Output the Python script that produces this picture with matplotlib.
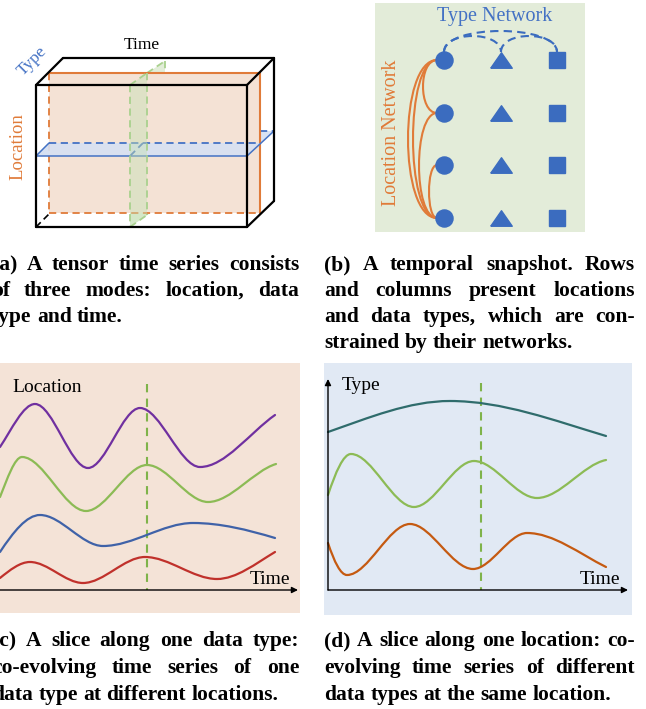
import matplotlib
matplotlib.use('Agg')
import matplotlib.pyplot as plt
from matplotlib.path import Path
from matplotlib.patches import PathPatch, Polygon, Rectangle

plt.rcParams['font.family'] = ['Liberation Serif', 'DejaVu Serif']

# --- panel (c): series at different locations, anchors (x, y, slope) in pixels
c_purple = [(0, 447, -1.5), (35, 404, 0), (88, 468, 0), (140, 408, 0), (200, 467, 0), (275, 415, -0.7)]
c_green = [(0, 497, -2.5), (22, 457, 0), (86, 511, 0), (147, 465, 0), (208, 502, 0), (276, 464, -0.3)]
c_blue = [(0, 552, -1.5), (40, 515, 0), (103, 546, 0), (193, 523, 0), (275, 538, 0.3)]
c_red = [(0, 578, -0.8), (30, 562, 0), (83, 583, 0), (145, 557, 0), (217, 579, 0), (275, 552, -0.6)]

# --- panel (d): series of different types at one location
d_teal = [(328, 432, -0.35), (450, 401, 0), (606, 436, 0.3)]
d_green = [(328, 495, -3), (351, 454, 0), (414, 507, 0), (474, 461, 0), (537, 498, 0), (606, 460, -0.2)]
d_orange = [(328, 543, 3), (347, 575, 0), (410, 524, 0), (473, 569, 0), (527, 533, 0), (606, 567, 0.5)]

# --- panel (b): snapshot grid
node_cols = [444, 501, 557]
node_rows = [60, 113, 165, 218]
# location network edges (row i, row j, leftmost x of the arc)
loc_edges = [(0, 1, 423), (0, 3, 408), (0, 3, 413), (1, 3, 419), (2, 3, 429)]
# type network edges (col i, col j, top y of the arc)
type_edges = [(0, 2, 31), (0, 1, 36), (1, 2, 36)]

captions = {
    'a': ["(a) A tensor time series consists", "of three modes: location, data", "type and time."],
    'b': ["(b) A temporal snapshot. Rows", "and columns present locations",
          "and data types, which are con-", "strained by their networks."],
    'c': ["(c) A slice along one data type:", "co-evolving time series of one",
          "data type at different locations."],
    'd': ["(d) A slice along one location: co-", "evolving time series of different",
          "data types at the same location."],
}

ORANGE = '#e07b39'
BLUE = '#4472c4'
NODE = '#3b6cbf'
GREEN_DASH = '#a9d18e'

fig = plt.figure(figsize=(6.46, 7.09), dpi=100)
ax = fig.add_axes([0, 0, 1, 1])
ax.set_xlim(0, 646)
ax.set_ylim(709, 0)
ax.axis('off')


def smooth(pts, color, lw=1.6):
    verts = [(pts[0][0], pts[0][1])]
    codes = [Path.MOVETO]
    for (x0, y0, s0), (x1, y1, s1) in zip(pts[:-1], pts[1:]):
        h = (x1 - x0) / 3
        verts += [(x0 + h, y0 + s0 * h), (x1 - h, y1 - s1 * h), (x1, y1)]
        codes += [Path.CURVE4] * 3
    ax.add_patch(PathPatch(Path(verts, codes), fill=False, edgecolor=color, lw=lw, zorder=4,
                           capstyle='round'))


def seg(p, q, color, lw=1.3, ls='-', z=5):
    ax.plot([p[0], q[0]], [p[1], q[1]], color=color, lw=lw, ls=ls, zorder=z,
            dashes=(4, 2.5) if ls == '--' else (None, None), solid_capstyle='round')


# ---------------- (a) cube ----------------
ax.add_patch(Polygon([(130, 227), (130, 85), (165, 61), (165, 203)], closed=True,
                     facecolor='#e2edd8', edgecolor='none', zorder=1))
seg((147, 73), (165, 61), GREEN_DASH, ls='--', z=1)
seg((165, 61), (165, 73), GREEN_DASH, ls='--', z=1)
ax.add_patch(Polygon([(36, 156), (247, 156), (274, 131), (63, 131)], closed=True,
                     facecolor='#d9e2f3', edgecolor='none', zorder=1))
seg((260, 131), (274, 131), BLUE, ls='--', z=1)

ax.add_patch(Rectangle((49, 73), 211, 140, facecolor='#f4e2d5', edgecolor='none', zorder=2))
seg((49, 73), (260, 73), ORANGE, lw=1.5, z=2)
seg((260, 73), (260, 213), ORANGE, lw=1.5, z=2)
seg((49, 73), (49, 213), ORANGE, ls='--', z=2)
seg((49, 213), (260, 213), ORANGE, ls='--', z=2)

# blue horizontal slice
ax.add_patch(Polygon([(36, 156), (247, 156), (260, 143), (49, 143)], closed=True,
                     facecolor='#d6e0f2', alpha=0.9, edgecolor='none', zorder=3))
seg((49, 143), (260, 143), BLUE, ls='--', z=3)
seg((36, 156), (247, 156), BLUE, lw=1.1, z=3)
seg((36, 156), (49, 143), BLUE, lw=1.1, z=3)
seg((130, 156), (143, 143), BLUE, ls='--', z=3)
seg((247, 156), (274, 131), BLUE, lw=1.1, z=3)

# green vertical slice (front part)
ax.add_patch(Polygon([(130, 227), (130, 85), (147, 73), (147, 215)], closed=True,
                     facecolor='#c5e0b4', alpha=0.45, edgecolor='none', zorder=3))
seg((130, 85), (130, 227), GREEN_DASH, ls='--', z=3)
seg((147, 73), (147, 215), GREEN_DASH, ls='--', z=3)
seg((130, 227), (147, 215), GREEN_DASH, ls='--', z=3)
seg((130, 85), (147, 73), GREEN_DASH, ls='--', z=3)

# cube edges
for p, q in [((36, 85), (247, 85)), ((247, 85), (247, 227)), ((247, 227), (36, 227)),
             ((36, 227), (36, 85)), ((36, 85), (63, 58)), ((63, 58), (274, 58)),
             ((274, 58), (247, 85)), ((274, 58), (274, 201)), ((274, 201), (247, 227))]:
    seg(p, q, 'black', lw=1.6, z=5)
seg((36, 227), (49, 214), 'black', lw=1.2, ls='--', z=5)

ax.text(142, 45, 'Time', fontsize=12.5, ha='center', va='center', zorder=6)
ax.text(18, 147, 'Location', fontsize=13.5, color=ORANGE, rotation=90, ha='center', va='center', zorder=6)
ax.text(32, 61, 'Type', fontsize=12.5, color=BLUE, rotation=45, ha='center', va='center', zorder=6)

# ---------------- (b) snapshot ----------------
ax.add_patch(Rectangle((375, 3), 210, 229, facecolor='#e3ecd9', edgecolor='none', zorder=0))
for i, j, xmin in loc_edges:
    x0 = node_cols[0] - 7
    k = (x0 - xmin) / 0.75
    p = Path([(x0, node_rows[i]), (x0 - k, node_rows[i]), (x0 - k, node_rows[j]), (x0, node_rows[j])],
             [Path.MOVETO, Path.CURVE4, Path.CURVE4, Path.CURVE4])
    ax.add_patch(PathPatch(p, fill=False, edgecolor=ORANGE, lw=1.5, zorder=4))
for i, j, ytop in type_edges:
    y0 = node_rows[0] - 8
    h = (y0 - ytop) / 0.75
    p = Path([(node_cols[i], y0), (node_cols[i], y0 - h), (node_cols[j], y0 - h), (node_cols[j], y0)],
             [Path.MOVETO, Path.CURVE4, Path.CURVE4, Path.CURVE4])
    ax.add_patch(PathPatch(p, fill=False, edgecolor=NODE, lw=1.5, ls=(0, (4, 2.5)), zorder=4))

tri = [(-1, -0.72), (1, -0.72), (0, 0.72), (-1, -0.72)]
for y in node_rows:
    ax.plot(node_cols[0], y, 'o', ms=12.3, color=NODE, zorder=5)
    ax.plot(node_cols[1], y, marker=tri, ms=15.5, color=NODE, zorder=5, ls='none')
    ax.plot(node_cols[2], y, 's', ms=12, color=NODE, zorder=5)

ax.text(495, 16, 'Type Network', fontsize=14.5, color=BLUE, ha='center', va='center', zorder=6)
ax.text(392, 133, 'Location Network', fontsize=14.5, color=ORANGE, rotation=90,
        ha='center', va='center', zorder=6)

# ---------------- (c) and (d) slices ----------------
ax.add_patch(Rectangle((0, 363), 300, 250, facecolor='#f4e3d7', edgecolor='none', zorder=0))
ax.add_patch(Rectangle((324, 363), 308, 252, facecolor='#e1e9f4', edgecolor='none', zorder=0))

arrow = dict(arrowstyle='-|>', lw=1.0, color='black', mutation_scale=9, shrinkA=0, shrinkB=0)
ax.annotate('', xy=(298, 590), xytext=(0, 590), arrowprops=arrow, zorder=5)
ax.annotate('', xy=(-1, 382), xytext=(-1, 590), arrowprops=arrow, zorder=5)
ax.annotate('', xy=(628, 590), xytext=(328, 590), arrowprops=arrow, zorder=5)
ax.annotate('', xy=(328, 379), xytext=(328, 590), arrowprops=arrow, zorder=5)

ax.plot([147, 147], [384, 590], color='#7fb34a', lw=1.5, dashes=(4, 3), zorder=3)
ax.plot([481, 481], [383, 590], color='#7fb34a', lw=1.5, dashes=(4, 3), zorder=3)

smooth(c_purple, '#7030a0')
smooth(c_green, '#8cbb55')
smooth(c_blue, '#3f62a8')
smooth(c_red, '#c0312b')
smooth(d_teal, '#2f6c6c')
smooth(d_green, '#8cbb55')
smooth(d_orange, '#c55a11')

ax.text(12, 388, 'Location', fontsize=14, ha='left', va='center', zorder=6)
ax.text(290, 580, 'Time', fontsize=14, ha='right', va='center', zorder=6)
ax.text(342, 385, 'Type', fontsize=14, ha='left', va='center', zorder=6)
ax.text(620, 580, 'Time', fontsize=14, ha='right', va='center', zorder=6)

# ---------------- captions (justified) ----------------
renderer = fig.canvas.get_renderer()
CAP_FS = 15.5


def caption(lines, x0, x1, ys):
    sp = ax.text(0, 0, 'x x', fontsize=CAP_FS, fontweight='bold')
    nsp = ax.text(0, 0, 'xx', fontsize=CAP_FS, fontweight='bold')
    space = sp.get_window_extent(renderer).width - nsp.get_window_extent(renderer).width
    sp.remove()
    nsp.remove()
    for k, (line, y) in enumerate(zip(lines, ys)):
        words = line.split(' ')
        texts = [ax.text(0, y, w, fontsize=CAP_FS, fontweight='bold', va='center', ha='left')
                 for w in words]
        widths = [t.get_window_extent(renderer).width for t in texts]
        if k < len(lines) - 1:
            gap = (x1 - x0 - sum(widths)) / (len(words) - 1)
        else:
            gap = space
        x = x0
        for t, w in zip(texts, widths):
            t.set_x(x)
            x += w + gap


caption(captions['a'], -8, 299, [265, 291, 317])
caption(captions['b'], 324, 635, [265, 291, 317, 343])
caption(captions['c'], -8, 299, [641, 668, 695])
caption(captions['d'], 324, 635, [641, 668, 695])

fig.savefig('out.png', dpi=100)
